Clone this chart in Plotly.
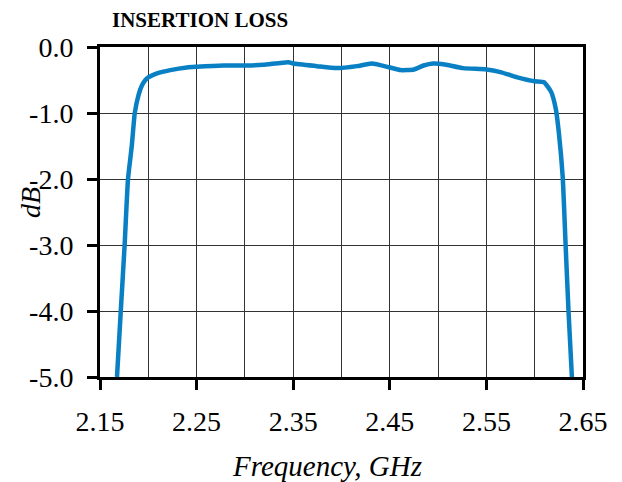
import plotly.graph_objects as go

freq_ghz = [2.1676, 2.1715, 2.1755, 2.1790, 2.1829, 2.1860, 2.1900, 2.1935, 2.1970, 2.2000,
            2.2090, 2.2228, 2.2400, 2.2500, 2.2777, 2.3000, 2.3188, 2.3450, 2.3500,
            2.3745, 2.3952, 2.4160, 2.4314, 2.4500, 2.4610, 2.4750, 2.4850, 2.4950,
            2.5055, 2.5260, 2.5500, 2.5645, 2.5820, 2.6000, 2.6095, 2.6170, 2.6220,
            2.6250, 2.6290, 2.6320, 2.6350, 2.6385]
loss_db = [-5.0, -4.0, -3.0, -2.0, -1.5, -1.0, -0.72, -0.58, -0.50, -0.46,
           -0.40, -0.35, -0.31, -0.30, -0.28, -0.28, -0.27, -0.23, -0.25,
           -0.29, -0.32, -0.29, -0.25, -0.31, -0.35, -0.34, -0.28, -0.25,
           -0.26, -0.32, -0.34, -0.38, -0.46, -0.52, -0.535, -0.68, -0.95,
           -1.3, -1.97, -3.0, -4.0, -5.0]

x_ticks = [2.15, 2.25, 2.35, 2.45, 2.55, 2.65]
y_ticks = [0.0, -1.0, -2.0, -3.0, -4.0, -5.0]

SERIF = "Liberation Serif, Times New Roman, serif"

fig = go.Figure()
fig.add_trace(go.Scatter(x=freq_ghz, y=loss_db, mode="lines",
                         line=dict(color="#0a80c4", width=4.5, shape="spline", smoothing=0.5),
                         showlegend=False))

# page body has an 8px default margin: compensate
fig.update_layout(
    width=614, height=474,
    margin=dict(l=92, r=39, t=39, b=105, autoexpand=False),
    paper_bgcolor="white", plot_bgcolor="white",
    font=dict(family=SERIF, color="black"),
)
fig.update_xaxes(
    range=[2.15, 2.65], tickvals=x_ticks, ticktext=[f"{v:.2f}" for v in x_ticks],
    ticks="outside", ticklen=10, tickwidth=2.5, tickcolor="black",
    tickfont=dict(family=SERIF, size=28, color="black"),
    ticklabelstandoff=7,
    showline=True, linewidth=3, linecolor="black", mirror=True,
    showgrid=True, gridcolor="#333333", gridwidth=1.3,
    minor=dict(dtick=0.05, tick0=2.15, showgrid=True, gridcolor="#333333", gridwidth=1.3),
    zeroline=False, automargin=False,
)
fig.update_yaxes(
    range=[-5.0, 0.0], tickvals=y_ticks, ticktext=[f"{v:.1f}" for v in y_ticks],
    ticks="outside", ticklen=10, tickwidth=2.5, tickcolor="black",
    tickfont=dict(family=SERIF, size=28, color="black"),
    ticklabelstandoff=8,
    showline=True, linewidth=3, linecolor="black", mirror=True,
    showgrid=True, gridcolor="#333333", gridwidth=1.3,
    zeroline=False, automargin=False,
)

fig.add_annotation(text="<b>INSERTION LOSS</b>", xref="paper", yref="paper", x=0.207, y=1.082,
                   showarrow=False, xanchor="center", yanchor="middle",
                   font=dict(family=SERIF, size=21, color="black"))
fig.add_annotation(text="<i>Frequency, GHz</i>", xref="paper", yref="paper", x=0.471, y=-0.27,
                   showarrow=False, xanchor="center", yanchor="middle",
                   font=dict(family=SERIF, size=29, color="black"))
fig.add_annotation(text="<i>dB</i>", xref="paper", yref="paper", x=-0.145, y=0.53,
                   showarrow=False, xanchor="center", yanchor="middle", textangle=-90,
                   font=dict(family=SERIF, size=28, color="black"))

fig.write_html("out.html")
